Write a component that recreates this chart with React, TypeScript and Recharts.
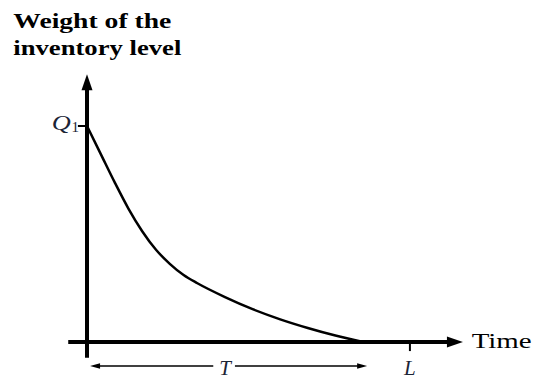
import { LineChart, Line, XAxis, YAxis, ReferenceLine } from "recharts";

// time in units where T = 10, inventory weight in units where Q1 = 10
const timePoints = [0, 0.5, 1, 1.5, 2, 2.5, 3, 3.5, 4, 5, 6, 7, 8, 9, 10];
const inventoryWeight = [10, 8.7, 7.4, 6.18, 5.13, 4.27, 3.62, 3.1, 2.72, 2.08, 1.52, 1.05, 0.65, 0.3, 0];
const yTickLabels = [{ value: 10, label: "Q", sub: "1" }];
const xTickLabels = [
  { value: 5, label: "T" },
  { value: 11.7, label: "L" },
];
const T_VALUE = 10;
const L_VALUE = 11.7;

const data = timePoints.map((x, i) => ({ x, y: inventoryWeight[i] }));

// pixel layout of the plot (origin and units)
const X0 = 87;
const Y0 = 342;
const PX_X = 27.6;
const PX_Y = 21.6;

const serif = "'Liberation Serif', 'DejaVu Serif', serif";
const labelColor = "#1c2436";

type ArrowOpts = { head: number; half: number; width: number; start?: boolean; end?: boolean };

function arrowShape(opts: ArrowOpts) {
  return (props: any) => {
    const { x1, y1, x2, y2 } = props;
    const dx = x2 - x1;
    const dy = y2 - y1;
    const len = Math.sqrt(dx * dx + dy * dy) || 1;
    const ux = dx / len;
    const uy = dy / len;
    const px = -uy;
    const py = ux;
    const head = (tx: number, ty: number, dirx: number, diry: number) => {
      const bx = tx - dirx * opts.head;
      const by = ty - diry * opts.head;
      return `${tx},${ty} ${bx + px * opts.half},${by + py * opts.half} ${bx - px * opts.half},${by - py * opts.half}`;
    };
    const sx = opts.start ? x1 + ux * opts.head * 0.8 : x1;
    const sy = opts.start ? y1 + uy * opts.head * 0.8 : y1;
    const ex = opts.end ? x2 - ux * opts.head * 0.8 : x2;
    const ey = opts.end ? y2 - uy * opts.head * 0.8 : y2;
    return (
      <g>
        <line x1={sx} y1={sy} x2={ex} y2={ey} stroke="#000" strokeWidth={opts.width} />
        {opts.end && <polygon points={head(x2, y2, ux, uy)} fill="#000" />}
        {opts.start && <polygon points={head(x1, y1, -ux, -uy)} fill="#000" />}
      </g>
    );
  };
}

export default function App() {
  return (
    <div style={{ position: "relative", width: 538, height: 378, background: "#fff" }}>
      <style>{"body{margin:0}"}</style>
      <LineChart
        width={538}
        height={378}
        data={data}
        margin={{ top: 72, right: 64.6, left: 59.4, bottom: 3.6 }}
      >
        <XAxis dataKey="x" type="number" domain={[-1, 14]} hide />
        <YAxis type="number" domain={[-1.5, 12.5]} hide />
        {/* vertical axis */}
        <ReferenceLine
          segment={[{ x: 0, y: -0.73 }, { x: 0, y: 12.4 }]}
          shape={arrowShape({ head: 16, half: 5.5, width: 4, end: true })}
        />
        {/* horizontal axis */}
        <ReferenceLine
          segment={[{ x: -0.68, y: 0 }, { x: 13.62, y: 0 }]}
          shape={arrowShape({ head: 16, half: 5.5, width: 4, end: true })}
        />
        {/* Q1 tick */}
        <ReferenceLine
          segment={[{ x: -0.33, y: 10 }, { x: 0, y: 10 }]}
          stroke="#000"
          strokeWidth={2}
        />
        {/* L tick */}
        <ReferenceLine
          segment={[{ x: L_VALUE, y: 0 }, { x: L_VALUE, y: -0.42 }]}
          stroke="#000"
          strokeWidth={2}
        />
        {/* T span arrow */}
        <ReferenceLine
          segment={[{ x: 0.11, y: -1.11 }, { x: 4.575, y: -1.11 }]}
          shape={arrowShape({ head: 10, half: 2.8, width: 1.5, start: true })}
        />
        <ReferenceLine
          segment={[{ x: 5.36, y: -1.11 }, { x: T_VALUE + 0.15, y: -1.11 }]}
          shape={arrowShape({ head: 10, half: 2.8, width: 1.5, end: true })}
        />
        <Line
          dataKey="y"
          type="monotone"
          stroke="#000"
          strokeWidth={2.5}
          dot={false}
          isAnimationActive={false}
        />
      </LineChart>
      <svg
        width={538}
        height={378}
        style={{ position: "absolute", left: 0, top: 0, pointerEvents: "none" }}
      >
        <text x={13.3} y={28.3} fontFamily={serif} fontWeight="bold" fontSize={21} fill="#000" textLength={158} lengthAdjust="spacingAndGlyphs">
          Weight of the
        </text>
        <text x={13.3} y={55} fontFamily={serif} fontWeight="bold" fontSize={21} fill="#000" textLength={168} lengthAdjust="spacingAndGlyphs">
          inventory level
        </text>
        <text x={471.7} y={348.3} fontFamily={serif} fontSize={20} fill="#000" textLength={60} lengthAdjust="spacingAndGlyphs">
          Time
        </text>
        {yTickLabels.map((t) => (
          <g key={t.label}>
            <text x={51.7} y={Y0 - t.value * PX_Y + 4.3} fontFamily={serif} fontStyle="italic" fontSize={22} fill={labelColor} textLength={19} lengthAdjust="spacingAndGlyphs">
              {t.label}
            </text>
            <text x={71.5} y={Y0 - t.value * PX_Y + 5.8} fontFamily={serif} fontSize={15} fill={labelColor}>
              {t.sub}
            </text>
          </g>
        ))}
        {xTickLabels.map((t) => (
          <text
            key={t.label}
            x={X0 + t.value * PX_X}
            y={374.5}
            textAnchor="middle"
            fontFamily={serif}
            fontStyle="italic"
            fontSize={21}
            fill={labelColor}
          >
            {t.label}
          </text>
        ))}
      </svg>
    </div>
  );
}
